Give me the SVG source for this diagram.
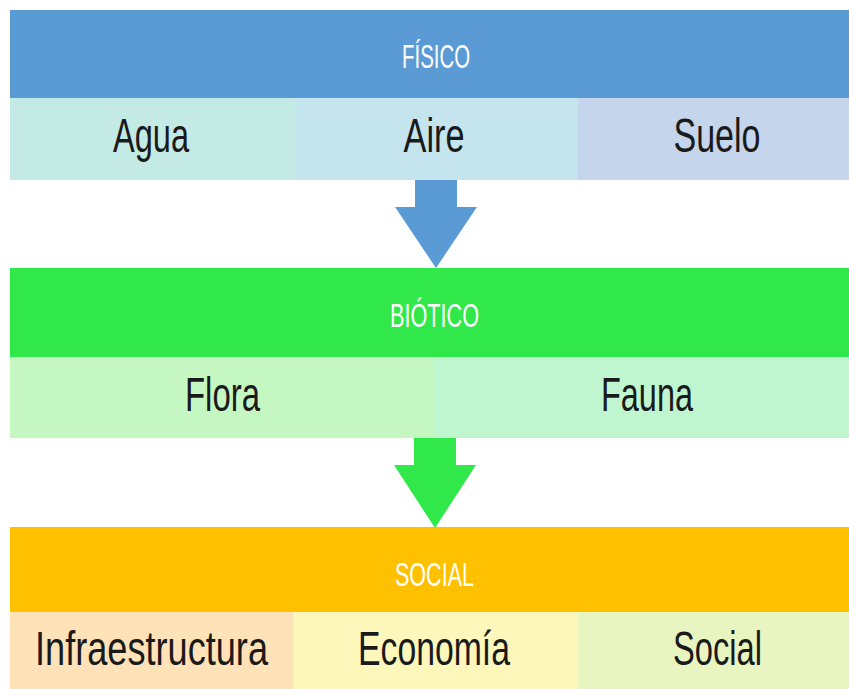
<svg xmlns="http://www.w3.org/2000/svg" width="849" height="689" viewBox="0 0 849 689">
<style>
.hd{font-family:"Liberation Sans",Arial,sans-serif;font-size:33px;fill:#ffffff;text-anchor:middle}
.it{font-family:"Liberation Sans",Arial,sans-serif;font-size:48px;fill:#1a1a1a;text-anchor:middle}
</style>
<rect width="849" height="689" fill="#ffffff"/>
<g id="fisico">
<rect x="10" y="10" width="839" height="88" fill="#5B9BD5"/>
<text class="hd" x="436" y="68" textLength="68" lengthAdjust="spacingAndGlyphs">FÍSICO</text>
</g>
<g id="agua">
<rect x="10" y="98" width="285" height="82" fill="#C4EAE6"/>
<text class="it" x="151" y="152" textLength="76" lengthAdjust="spacingAndGlyphs">Agua</text>
</g>
<g id="aire">
<rect x="295" y="98" width="283" height="82" fill="#C4E5EE"/>
<text class="it" x="434" y="152" textLength="61" lengthAdjust="spacingAndGlyphs">Aire</text>
</g>
<g id="suelo">
<rect x="578" y="98" width="271" height="82" fill="#C5D5EC"/>
<text class="it" x="717" y="152" textLength="87" lengthAdjust="spacingAndGlyphs">Suelo</text>
</g>
<g id="biotico">
<rect x="10" y="268" width="839" height="89" fill="#31E84A"/>
<text class="hd" x="434.5" y="327" textLength="89" lengthAdjust="spacingAndGlyphs">BIÓTICO</text>
</g>
<g id="flora">
<rect x="10" y="357" width="424" height="81" fill="#C5F7C3"/>
<text class="it" x="222.5" y="411" textLength="75" lengthAdjust="spacingAndGlyphs">Flora</text>
</g>
<g id="fauna">
<rect x="434" y="357" width="415" height="81" fill="#BFF6D0"/>
<text class="it" x="647" y="411" textLength="92" lengthAdjust="spacingAndGlyphs">Fauna</text>
</g>
<g id="social-hd">
<rect x="10" y="527" width="839" height="85" fill="#FFC000"/>
<text class="hd" x="434.5" y="586" textLength="79" lengthAdjust="spacingAndGlyphs">SOCIAL</text>
</g>
<g id="infraestructura">
<rect x="10" y="612" width="283" height="77" fill="#FFE2B7"/>
<text class="it" x="151.5" y="665" textLength="233" lengthAdjust="spacingAndGlyphs">Infraestructura</text>
</g>
<g id="economia">
<rect x="293" y="612" width="285" height="77" fill="#FDF7BC"/>
<text class="it" x="434" y="665" textLength="152" lengthAdjust="spacingAndGlyphs">Economía</text>
</g>
<g id="social">
<rect x="578" y="612" width="271" height="77" fill="#E9F5C0"/>
<text class="it" x="717.5" y="665" textLength="89" lengthAdjust="spacingAndGlyphs">Social</text>
</g>
<g id="connectors">
<polygon points="415,180 457,180 457,207 477,207 436,268 395,207 415,207" fill="#5B9BD5"/>
<polygon points="414,438 456,438 456,465 476,465 435,528 394,465 414,465" fill="#31E84A"/>
</g>
</svg>
